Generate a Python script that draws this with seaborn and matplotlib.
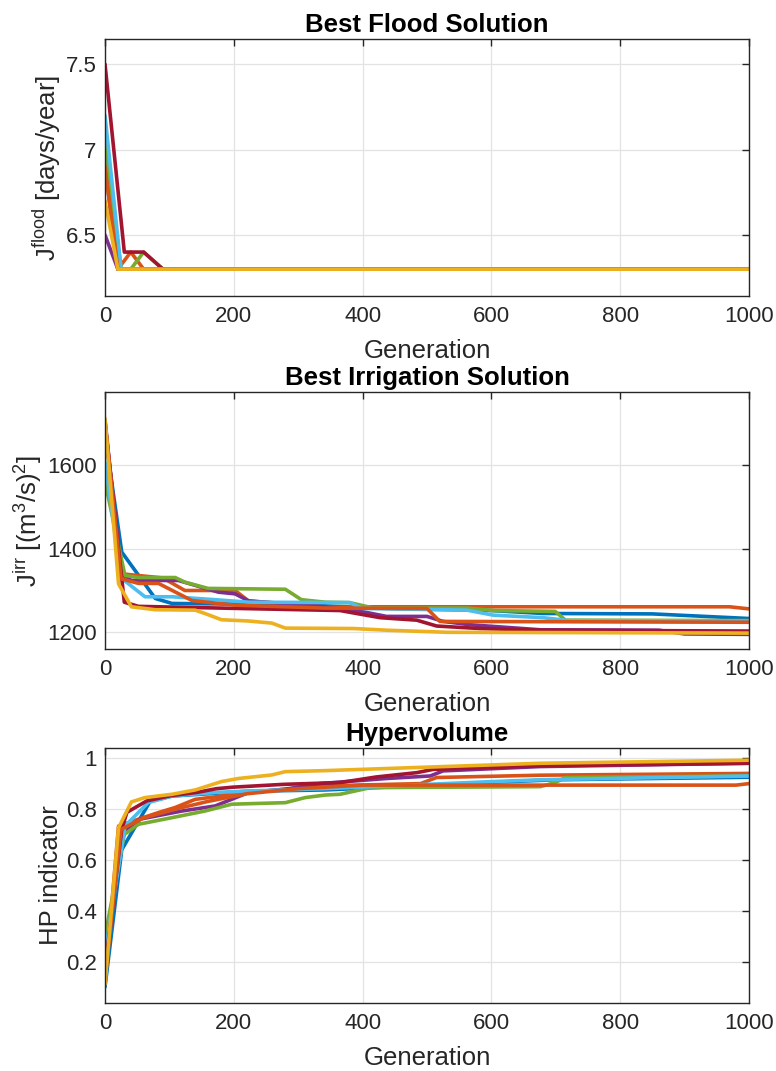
import numpy as np
import pandas as pd
import matplotlib
matplotlib.use("Agg")
import matplotlib.pyplot as plt
import seaborn as sns

# ---------------- data (breakpoints) ----------------
runs = ["blue", "orange", "purple", "green", "lightblue", "darkred", "orange2", "yellow"]
run_colors = ["#0072BD", "#D95319", "#7E2F8E", "#77AC30", "#4DBEEE", "#A2142F", "#D95319", "#EDB120"]

# Panel 1: best flood solution
flood_blue_gen = [0, 20, 1000]
flood_blue_val = [7.1, 6.3, 6.3]
flood_orange_gen = [0, 20, 40, 60, 1000]
flood_orange_val = [6.9, 6.3, 6.4, 6.3, 6.3]
flood_purple_gen = [0, 20, 1000]
flood_purple_val = [6.5, 6.3, 6.3]
flood_green_gen = [0, 25, 40, 60, 90, 1000]
flood_green_val = [7.05, 6.3, 6.3, 6.4, 6.3, 6.3]
flood_lightblue_gen = [0, 25, 1000]
flood_lightblue_val = [7.2, 6.3, 6.3]
flood_darkred_gen = [0, 30, 60, 90, 1000]
flood_darkred_val = [7.5, 6.4, 6.4, 6.3, 6.3]
flood_orange2_gen = [0, 20, 1000]
flood_orange2_val = [6.9, 6.3, 6.3]
flood_yellow_gen = [0, 20, 1000]
flood_yellow_val = [6.7, 6.3, 6.3]

# Panel 2: best irrigation solution
irr_blue_gen = [0, 26, 78, 104, 300, 420, 600, 680, 850, 1000]
irr_blue_val = [1672, 1392, 1281, 1269, 1266, 1258, 1252, 1245, 1244, 1233]
irr_orange_gen = [0, 25, 90, 124, 202, 223, 279, 297, 410, 970, 1000]
irr_orange_val = [1700, 1340, 1330, 1300, 1300, 1275, 1268, 1258, 1261, 1261, 1256]
irr_purple_gen = [0, 25, 41, 114, 145, 176, 202, 223, 330, 401, 437, 500, 525, 567, 676, 860, 900, 1000]
irr_purple_val = [1708, 1340, 1324, 1324, 1310, 1296, 1292, 1275, 1263, 1249, 1238, 1238, 1226, 1218, 1206, 1205, 1196, 1195]
irr_green_gen = [0, 31, 52, 109, 124, 160, 280, 305, 342, 380, 417, 562, 603, 699, 715, 1000]
irr_green_val = [1560, 1336, 1331, 1331, 1320, 1305, 1303, 1278, 1272, 1271, 1258, 1258, 1252, 1250, 1229, 1228]
irr_lightblue_gen = [0, 25, 62, 104, 171, 223, 380, 400, 562, 603, 680, 720, 1000]
irr_lightblue_val = [1608, 1330, 1285, 1285, 1278, 1272, 1271, 1257, 1253, 1241, 1235, 1228, 1227]
irr_darkred_gen = [0, 30, 52, 334, 365, 427, 484, 515, 582, 676, 1000]
irr_darkred_val = [1700, 1272, 1262, 1253, 1252, 1235, 1229, 1215, 1209, 1205, 1203]
irr_orange2_gen = [0, 25, 52, 83, 135, 200, 340, 500, 520, 1000]
irr_orange2_val = [1705, 1328, 1317, 1317, 1276, 1265, 1258, 1257, 1226, 1224]
irr_yellow_gen = [0, 21, 41, 78, 140, 155, 181, 223, 259, 280, 386, 437, 531, 1000]
irr_yellow_val = [1712, 1316, 1261, 1254, 1253, 1245, 1230, 1227, 1222, 1210, 1209, 1205, 1200, 1198]

# Panel 3: hypervolume
hv_blue_gen = [0, 26, 70, 104, 223, 342, 600, 700, 1000]
hv_blue_val = [0.10, 0.64, 0.83, 0.851, 0.87, 0.875, 0.905, 0.915, 0.925]
hv_orange_gen = [0, 21, 52, 83, 109, 140, 181, 223, 280, 342, 490, 515, 676, 1000]
hv_orange_val = [0.12, 0.733, 0.76, 0.786, 0.806, 0.838, 0.851, 0.865, 0.878, 0.891, 0.90, 0.924, 0.933, 0.94]
hv_purple_gen = [0, 25, 54, 119, 171, 223, 280, 334, 437, 505, 525, 676, 1000]
hv_purple_val = [0.16, 0.70, 0.76, 0.792, 0.812, 0.865, 0.878, 0.90, 0.92, 0.93, 0.95, 0.967, 0.98]
hv_green_gen = [0, 30, 52, 104, 155, 197, 280, 311, 342, 365, 412, 676, 699, 715, 1000]
hv_green_val = [0.30, 0.70, 0.74, 0.766, 0.792, 0.819, 0.825, 0.845, 0.855, 0.858, 0.884, 0.888, 0.904, 0.924, 0.93]
hv_lightblue_gen = [0, 31, 67, 104, 171, 223, 342, 593, 676, 1000]
hv_lightblue_val = [0.235, 0.733, 0.825, 0.851, 0.865, 0.871, 0.88, 0.907, 0.915, 0.93]
hv_darkred_gen = [0, 26, 34, 65, 101, 142, 173, 199, 277, 365, 421, 484, 510, 676, 1000]
hv_darkred_val = [0.17, 0.72, 0.787, 0.832, 0.852, 0.865, 0.88, 0.886, 0.897, 0.904, 0.926, 0.943, 0.956, 0.97, 0.98]
hv_orange2_gen = [0, 25, 60, 110, 160, 220, 300, 400, 980, 1000]
hv_orange2_val = [0.13, 0.72, 0.765, 0.80, 0.83, 0.86, 0.88, 0.894, 0.894, 0.90]
hv_yellow_gen = [0, 21, 41, 62, 104, 140, 181, 207, 259, 280, 342, 676, 1000]
hv_yellow_val = [0.11, 0.726, 0.828, 0.845, 0.858, 0.875, 0.908, 0.92, 0.934, 0.947, 0.951, 0.98, 0.992]

x_ticks = [0, 200, 400, 600, 800, 1000]
flood_ticks = [6.5, 7, 7.5]
flood_ticklabels = ["6.5", "7", "7.5"]
irr_ticks = [1200, 1400, 1600]
hv_ticks = [0.2, 0.4, 0.6, 0.8, 1.0]
hv_ticklabels = ["0.2", "0.4", "0.6", "0.8", "1"]

titles = ["Best Flood Solution", "Best Irrigation Solution", "Hypervolume"]
ylabels = [r"J$^{\mathrm{flood}}$ [days/year]",
           r"J$^{\mathrm{irr}}$ [(m$^3$/s)$^2$]",
           "HP indicator"]
xlabel = "Generation"


def build(prefix):
    g = globals()
    frames = []
    for r in runs:
        frames.append(pd.DataFrame({"gen": g[f"{prefix}_{r}_gen"],
                                    "val": g[f"{prefix}_{r}_val"],
                                    "run": r}))
    return pd.concat(frames, ignore_index=True)


# ---------------- style ----------------
sns.set_theme(style="whitegrid")
plt.rcParams["font.family"] = ["Liberation Sans", "DejaVu Sans"]
plt.rcParams["mathtext.fontset"] = "custom"
plt.rcParams["mathtext.rm"] = "Liberation Sans"
plt.rcParams["mathtext.it"] = "Liberation Sans"
plt.rcParams["mathtext.bf"] = "Liberation Sans:bold"

dark = "#262626"
fig = plt.figure(figsize=(7.76, 10.71), dpi=100)
W, H = 776, 1071
boxes = [(105, 39, 749, 296), (105, 392, 749, 649), (105, 748, 749, 1003)]
axes = []
for (l, t, r, b) in boxes:
    axes.append(fig.add_axes([l / W, 1 - b / H, (r - l) / W, (b - t) / H]))

palette = dict(zip(runs, run_colors))
specs = [("flood", (6.143, 7.647), flood_ticks, flood_ticklabels),
         ("irr", (1160, 1775), irr_ticks, [str(v) for v in irr_ticks]),
         ("hv", (0.037, 1.04), hv_ticks, hv_ticklabels)]

for ax, (prefix, ylim, yt, ytl), title, ylab in zip(axes, specs, titles, ylabels):
    df = build(prefix)
    sns.lineplot(data=df, x="gen", y="val", hue="run", hue_order=runs,
                 palette=palette, estimator=None, sort=False, legend=False,
                 linewidth=2.6, ax=ax)
    ax.set_facecolor("white")
    ax.set_xlim(0, 1000)
    ax.set_ylim(*ylim)
    ax.set_xticks(x_ticks)
    ax.set_xticklabels([str(v) for v in x_ticks])
    ax.set_yticks(yt)
    ax.set_yticklabels(ytl)
    ax.grid(True, color="#e3e3e3", linewidth=0.9)
    ax.set_axisbelow(True)
    for s in ax.spines.values():
        s.set_visible(True)
        s.set_color(dark)
        s.set_linewidth(1.0)
    ax.tick_params(direction="in", top=True, right=True, length=5, width=1.0,
                   color=dark, labelcolor=dark, labelsize=16)
    ax.tick_params(axis="x", pad=7.5)
    ax.tick_params(axis="y", pad=6)
    ax.set_title(title, fontsize=18.5, fontweight="bold", color="black", pad=5)
    ax.set_xlabel(xlabel, fontsize=18.5, color=dark, labelpad=8)
    ax.set_ylabel(ylab, fontsize=18.5, color=dark, labelpad=2)

fig.savefig("out.png", dpi=100, facecolor="white")
